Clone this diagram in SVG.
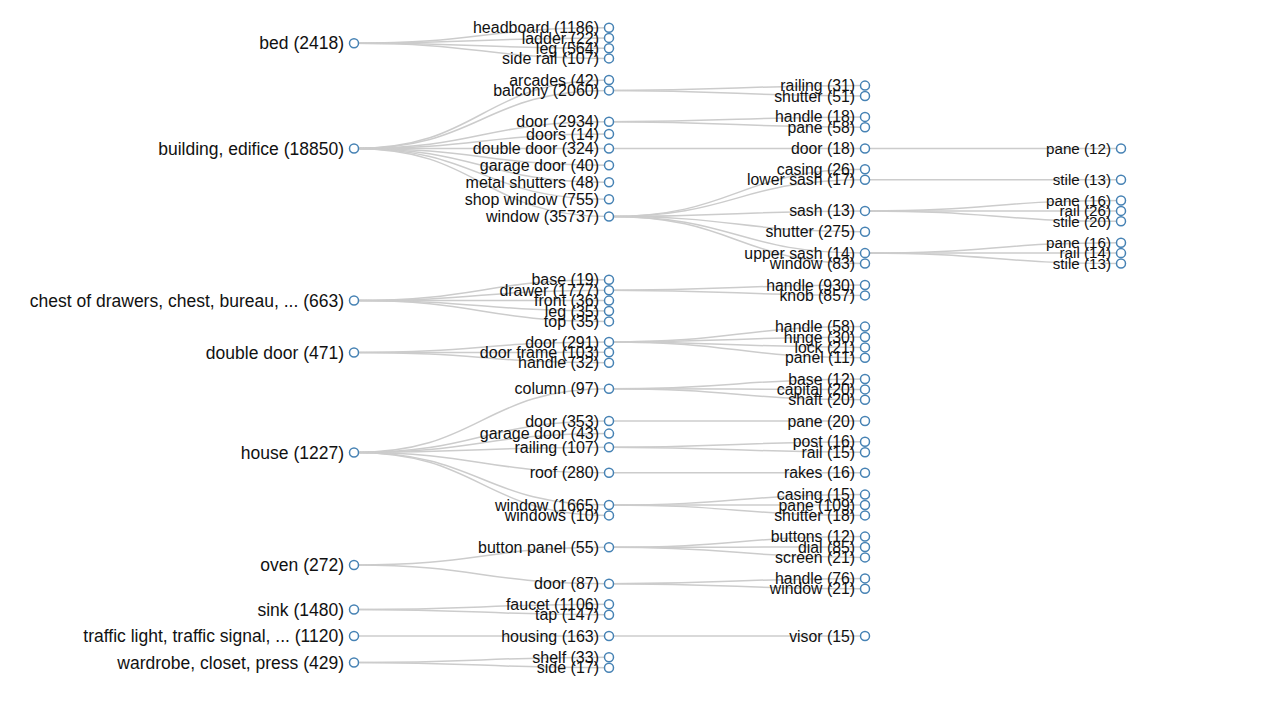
<svg xmlns="http://www.w3.org/2000/svg" width="1262" height="701" viewBox="0 0 1262 701">
<style>
.l{fill:none;stroke:#ccc;stroke-width:1.5}
circle{fill:#fff;stroke:#4682b4;stroke-width:1.5}
text{font-family:"Liberation Sans",Arial,sans-serif;fill:#111;text-anchor:end}
.t1 text{font-size:17.5px}
.t2 text{font-size:16px}
.t3 text{font-size:15.8px}
.t4 text{font-size:15.2px}
</style>
<rect width="1262" height="701" fill="#fff"/>
<g id="links">
<path class="l" d="M354,43.3C481.5,43.3 481.5,27.7 609,27.7"/>
<path class="l" d="M354,43.3C481.5,43.3 481.5,37.9 609,37.9"/>
<path class="l" d="M354,43.3C481.5,43.3 481.5,48.2 609,48.2"/>
<path class="l" d="M354,43.3C481.5,43.3 481.5,58.4 609,58.4"/>
<path class="l" d="M354,148.5C481.5,148.5 481.5,80 609,80"/>
<path class="l" d="M354,148.5C481.5,148.5 481.5,90.4 609,90.4"/>
<path class="l" d="M354,148.5C481.5,148.5 481.5,121.7 609,121.7"/>
<path class="l" d="M354,148.5C481.5,148.5 481.5,134 609,134"/>
<path class="l" d="M354,148.5C481.5,148.5 481.5,148.5 609,148.5"/>
<path class="l" d="M354,148.5C481.5,148.5 481.5,165.2 609,165.2"/>
<path class="l" d="M354,148.5C481.5,148.5 481.5,182.2 609,182.2"/>
<path class="l" d="M354,148.5C481.5,148.5 481.5,199.3 609,199.3"/>
<path class="l" d="M354,148.5C481.5,148.5 481.5,216.5 609,216.5"/>
<path class="l" d="M354,300.5C481.5,300.5 481.5,279.8 609,279.8"/>
<path class="l" d="M354,300.5C481.5,300.5 481.5,290.2 609,290.2"/>
<path class="l" d="M354,300.5C481.5,300.5 481.5,300.6 609,300.6"/>
<path class="l" d="M354,300.5C481.5,300.5 481.5,311 609,311"/>
<path class="l" d="M354,300.5C481.5,300.5 481.5,321.4 609,321.4"/>
<path class="l" d="M354,352.5C481.5,352.5 481.5,341.9 609,341.9"/>
<path class="l" d="M354,352.5C481.5,352.5 481.5,352.3 609,352.3"/>
<path class="l" d="M354,352.5C481.5,352.5 481.5,362.7 609,362.7"/>
<path class="l" d="M354,452.5C481.5,452.5 481.5,388.8 609,388.8"/>
<path class="l" d="M354,452.5C481.5,452.5 481.5,421 609,421"/>
<path class="l" d="M354,452.5C481.5,452.5 481.5,433.6 609,433.6"/>
<path class="l" d="M354,452.5C481.5,452.5 481.5,447.2 609,447.2"/>
<path class="l" d="M354,452.5C481.5,452.5 481.5,472.8 609,472.8"/>
<path class="l" d="M354,452.5C481.5,452.5 481.5,505 609,505"/>
<path class="l" d="M354,452.5C481.5,452.5 481.5,515.4 609,515.4"/>
<path class="l" d="M354,565C481.5,565 481.5,547.3 609,547.3"/>
<path class="l" d="M354,565C481.5,565 481.5,583.8 609,583.8"/>
<path class="l" d="M354,609.5C481.5,609.5 481.5,604.3 609,604.3"/>
<path class="l" d="M354,609.5C481.5,609.5 481.5,614.7 609,614.7"/>
<path class="l" d="M354,636C481.5,636 481.5,636 609,636"/>
<path class="l" d="M354,662.5C481.5,662.5 481.5,657.3 609,657.3"/>
<path class="l" d="M354,662.5C481.5,662.5 481.5,667.7 609,667.7"/>
<path class="l" d="M609,90.4C737,90.4 737,85.6 865,85.6"/>
<path class="l" d="M609,90.4C737,90.4 737,96 865,96"/>
<path class="l" d="M609,121.7C737,121.7 737,116.9 865,116.9"/>
<path class="l" d="M609,121.7C737,121.7 737,127.3 865,127.3"/>
<path class="l" d="M609,148.5C737,148.5 737,148.5 865,148.5"/>
<path class="l" d="M609,216.5C737,216.5 737,169.3 865,169.3"/>
<path class="l" d="M609,216.5C737,216.5 737,179.7 865,179.7"/>
<path class="l" d="M609,216.5C737,216.5 737,210.9 865,210.9"/>
<path class="l" d="M609,216.5C737,216.5 737,231.7 865,231.7"/>
<path class="l" d="M609,216.5C737,216.5 737,253.1 865,253.1"/>
<path class="l" d="M609,216.5C737,216.5 737,263.5 865,263.5"/>
<path class="l" d="M609,290.2C737,290.2 737,285 865,285"/>
<path class="l" d="M609,290.2C737,290.2 737,295.4 865,295.4"/>
<path class="l" d="M609,341.9C737,341.9 737,326.6 865,326.6"/>
<path class="l" d="M609,341.9C737,341.9 737,337 865,337"/>
<path class="l" d="M609,341.9C737,341.9 737,347.4 865,347.4"/>
<path class="l" d="M609,341.9C737,341.9 737,357.8 865,357.8"/>
<path class="l" d="M609,388.8C737,388.8 737,379 865,379"/>
<path class="l" d="M609,388.8C737,388.8 737,389.4 865,389.4"/>
<path class="l" d="M609,388.8C737,388.8 737,399.8 865,399.8"/>
<path class="l" d="M609,421C737,421 737,421 865,421"/>
<path class="l" d="M609,447.2C737,447.2 737,441.8 865,441.8"/>
<path class="l" d="M609,447.2C737,447.2 737,452.2 865,452.2"/>
<path class="l" d="M609,472.8C737,472.8 737,472.8 865,472.8"/>
<path class="l" d="M609,505C737,505 737,494.6 865,494.6"/>
<path class="l" d="M609,505C737,505 737,505 865,505"/>
<path class="l" d="M609,505C737,505 737,515.4 865,515.4"/>
<path class="l" d="M609,547.3C737,547.3 737,536.6 865,536.6"/>
<path class="l" d="M609,547.3C737,547.3 737,547 865,547"/>
<path class="l" d="M609,547.3C737,547.3 737,557.4 865,557.4"/>
<path class="l" d="M609,583.8C737,583.8 737,578.4 865,578.4"/>
<path class="l" d="M609,583.8C737,583.8 737,588.8 865,588.8"/>
<path class="l" d="M609,636C737,636 737,636 865,636"/>
<path class="l" d="M865,148.5C993,148.5 993,148.5 1121,148.5"/>
<path class="l" d="M865,179.7C993,179.7 993,179.7 1121,179.7"/>
<path class="l" d="M865,210.9C993,210.9 993,200.5 1121,200.5"/>
<path class="l" d="M865,210.9C993,210.9 993,210.9 1121,210.9"/>
<path class="l" d="M865,210.9C993,210.9 993,221.3 1121,221.3"/>
<path class="l" d="M865,253.1C993,253.1 993,242.7 1121,242.7"/>
<path class="l" d="M865,253.1C993,253.1 993,253.1 1121,253.1"/>
<path class="l" d="M865,253.1C993,253.1 993,263.5 1121,263.5"/>
</g>
<g id="level1" class="t1">
<g id="n-bed"><circle cx="354" cy="43.3" r="4.5"/><text x="344" y="43.3" dy="0.35em">bed (2418)</text></g>
<g id="n-building"><circle cx="354" cy="148.5" r="4.5"/><text x="344" y="148.5" dy="0.35em">building, edifice (18850)</text></g>
<g id="n-chest"><circle cx="354" cy="300.5" r="4.5"/><text x="344" y="300.5" dy="0.35em">chest of drawers, chest, bureau, ... (663)</text></g>
<g id="n-doubledoor"><circle cx="354" cy="352.5" r="4.5"/><text x="344" y="352.5" dy="0.35em">double door (471)</text></g>
<g id="n-house"><circle cx="354" cy="452.5" r="4.5"/><text x="344" y="452.5" dy="0.35em">house (1227)</text></g>
<g id="n-oven"><circle cx="354" cy="565" r="4.5"/><text x="344" y="565" dy="0.35em">oven (272)</text></g>
<g id="n-sink"><circle cx="354" cy="609.5" r="4.5"/><text x="344" y="609.5" dy="0.35em">sink (1480)</text></g>
<g id="n-traffic"><circle cx="354" cy="636" r="4.5"/><text x="344" y="636" dy="0.35em">traffic light, traffic signal, ... (1120)</text></g>
<g id="n-wardrobe"><circle cx="354" cy="662.5" r="4.5"/><text x="344" y="662.5" dy="0.35em">wardrobe, closet, press (429)</text></g>
</g>
<g id="level2" class="t2">
<g id="n-bed-headboard"><circle cx="609" cy="27.7" r="4.5"/><text x="599" y="27.7" dy="0.35em">headboard (1186)</text></g>
<g id="n-bed-ladder"><circle cx="609" cy="37.9" r="4.5"/><text x="599" y="37.9" dy="0.35em">ladder (22)</text></g>
<g id="n-bed-leg"><circle cx="609" cy="48.2" r="4.5"/><text x="599" y="48.2" dy="0.35em">leg (564)</text></g>
<g id="n-bed-siderail"><circle cx="609" cy="58.4" r="4.5"/><text x="599" y="58.4" dy="0.35em">side rail (107)</text></g>
<g id="n-b-arcades"><circle cx="609" cy="80" r="4.5"/><text x="599" y="80" dy="0.35em">arcades (42)</text></g>
<g id="n-b-balcony"><circle cx="609" cy="90.4" r="4.5"/><text x="599" y="90.4" dy="0.35em">balcony (2060)</text></g>
<g id="n-b-door"><circle cx="609" cy="121.7" r="4.5"/><text x="599" y="121.7" dy="0.35em">door (2934)</text></g>
<g id="n-b-doors"><circle cx="609" cy="134" r="4.5"/><text x="599" y="134" dy="0.35em">doors (14)</text></g>
<g id="n-b-doubledoor"><circle cx="609" cy="148.5" r="4.5"/><text x="599" y="148.5" dy="0.35em">double door (324)</text></g>
<g id="n-b-garagedoor"><circle cx="609" cy="165.2" r="4.5"/><text x="599" y="165.2" dy="0.35em">garage door (40)</text></g>
<g id="n-b-metalshutters"><circle cx="609" cy="182.2" r="4.5"/><text x="599" y="182.2" dy="0.35em">metal shutters (48)</text></g>
<g id="n-b-shopwindow"><circle cx="609" cy="199.3" r="4.5"/><text x="599" y="199.3" dy="0.35em">shop window (755)</text></g>
<g id="n-b-window"><circle cx="609" cy="216.5" r="4.5"/><text x="599" y="216.5" dy="0.35em">window (35737)</text></g>
<g id="n-c-base"><circle cx="609" cy="279.8" r="4.5"/><text x="599" y="279.8" dy="0.35em">base (19)</text></g>
<g id="n-c-drawer"><circle cx="609" cy="290.2" r="4.5"/><text x="599" y="290.2" dy="0.35em">drawer (1777)</text></g>
<g id="n-c-front"><circle cx="609" cy="300.6" r="4.5"/><text x="599" y="300.6" dy="0.35em">front (36)</text></g>
<g id="n-c-leg"><circle cx="609" cy="311" r="4.5"/><text x="599" y="311" dy="0.35em">leg (35)</text></g>
<g id="n-c-top"><circle cx="609" cy="321.4" r="4.5"/><text x="599" y="321.4" dy="0.35em">top (35)</text></g>
<g id="n-dd-door"><circle cx="609" cy="341.9" r="4.5"/><text x="599" y="341.9" dy="0.35em">door (291)</text></g>
<g id="n-dd-doorframe"><circle cx="609" cy="352.3" r="4.5"/><text x="599" y="352.3" dy="0.35em">door frame (103)</text></g>
<g id="n-dd-handle"><circle cx="609" cy="362.7" r="4.5"/><text x="599" y="362.7" dy="0.35em">handle (32)</text></g>
<g id="n-h-column"><circle cx="609" cy="388.8" r="4.5"/><text x="599" y="388.8" dy="0.35em">column (97)</text></g>
<g id="n-h-door"><circle cx="609" cy="421" r="4.5"/><text x="599" y="421" dy="0.35em">door (353)</text></g>
<g id="n-h-garagedoor"><circle cx="609" cy="433.6" r="4.5"/><text x="599" y="433.6" dy="0.35em">garage door (43)</text></g>
<g id="n-h-railing"><circle cx="609" cy="447.2" r="4.5"/><text x="599" y="447.2" dy="0.35em">railing (107)</text></g>
<g id="n-h-roof"><circle cx="609" cy="472.8" r="4.5"/><text x="599" y="472.8" dy="0.35em">roof (280)</text></g>
<g id="n-h-window"><circle cx="609" cy="505" r="4.5"/><text x="599" y="505" dy="0.35em">window (1665)</text></g>
<g id="n-h-windows"><circle cx="609" cy="515.4" r="4.5"/><text x="599" y="515.4" dy="0.35em">windows (10)</text></g>
<g id="n-o-buttonpanel"><circle cx="609" cy="547.3" r="4.5"/><text x="599" y="547.3" dy="0.35em">button panel (55)</text></g>
<g id="n-o-door"><circle cx="609" cy="583.8" r="4.5"/><text x="599" y="583.8" dy="0.35em">door (87)</text></g>
<g id="n-s-faucet"><circle cx="609" cy="604.3" r="4.5"/><text x="599" y="604.3" dy="0.35em">faucet (1106)</text></g>
<g id="n-s-tap"><circle cx="609" cy="614.7" r="4.5"/><text x="599" y="614.7" dy="0.35em">tap (147)</text></g>
<g id="n-t-housing"><circle cx="609" cy="636" r="4.5"/><text x="599" y="636" dy="0.35em">housing (163)</text></g>
<g id="n-w-shelf"><circle cx="609" cy="657.3" r="4.5"/><text x="599" y="657.3" dy="0.35em">shelf (33)</text></g>
<g id="n-w-side"><circle cx="609" cy="667.7" r="4.5"/><text x="599" y="667.7" dy="0.35em">side (17)</text></g>
</g>
<g id="level3" class="t3">
<g id="n3-railing"><circle cx="865" cy="85.6" r="4.5"/><text x="855" y="85.6" dy="0.35em">railing (31)</text></g>
<g id="n3-shutter"><circle cx="865" cy="96" r="4.5"/><text x="855" y="96" dy="0.35em">shutter (51)</text></g>
<g id="n3-handle18"><circle cx="865" cy="116.9" r="4.5"/><text x="855" y="116.9" dy="0.35em">handle (18)</text></g>
<g id="n3-pane58"><circle cx="865" cy="127.3" r="4.5"/><text x="855" y="127.3" dy="0.35em">pane (58)</text></g>
<g id="n3-door18"><circle cx="865" cy="148.5" r="4.5"/><text x="855" y="148.5" dy="0.35em">door (18)</text></g>
<g id="n3-casing26"><circle cx="865" cy="169.3" r="4.5"/><text x="855" y="169.3" dy="0.35em">casing (26)</text></g>
<g id="n3-lowersash"><circle cx="865" cy="179.7" r="4.5"/><text x="855" y="179.7" dy="0.35em">lower sash (17)</text></g>
<g id="n3-sash"><circle cx="865" cy="210.9" r="4.5"/><text x="855" y="210.9" dy="0.35em">sash (13)</text></g>
<g id="n3-shutter275"><circle cx="865" cy="231.7" r="4.5"/><text x="855" y="231.7" dy="0.35em">shutter (275)</text></g>
<g id="n3-uppersash"><circle cx="865" cy="253.1" r="4.5"/><text x="855" y="253.1" dy="0.35em">upper sash (14)</text></g>
<g id="n3-window83"><circle cx="865" cy="263.5" r="4.5"/><text x="855" y="263.5" dy="0.35em">window (83)</text></g>
<g id="n3-handle930"><circle cx="865" cy="285" r="4.5"/><text x="855" y="285" dy="0.35em">handle (930)</text></g>
<g id="n3-knob"><circle cx="865" cy="295.4" r="4.5"/><text x="855" y="295.4" dy="0.35em">knob (857)</text></g>
<g id="n3-handle58"><circle cx="865" cy="326.6" r="4.5"/><text x="855" y="326.6" dy="0.35em">handle (58)</text></g>
<g id="n3-hinge"><circle cx="865" cy="337" r="4.5"/><text x="855" y="337" dy="0.35em">hinge (30)</text></g>
<g id="n3-lock"><circle cx="865" cy="347.4" r="4.5"/><text x="855" y="347.4" dy="0.35em">lock (21)</text></g>
<g id="n3-panel"><circle cx="865" cy="357.8" r="4.5"/><text x="855" y="357.8" dy="0.35em">panel (11)</text></g>
<g id="n3-base12"><circle cx="865" cy="379" r="4.5"/><text x="855" y="379" dy="0.35em">base (12)</text></g>
<g id="n3-capital"><circle cx="865" cy="389.4" r="4.5"/><text x="855" y="389.4" dy="0.35em">capital (20)</text></g>
<g id="n3-shaft"><circle cx="865" cy="399.8" r="4.5"/><text x="855" y="399.8" dy="0.35em">shaft (20)</text></g>
<g id="n3-pane20"><circle cx="865" cy="421" r="4.5"/><text x="855" y="421" dy="0.35em">pane (20)</text></g>
<g id="n3-post"><circle cx="865" cy="441.8" r="4.5"/><text x="855" y="441.8" dy="0.35em">post (16)</text></g>
<g id="n3-rail15"><circle cx="865" cy="452.2" r="4.5"/><text x="855" y="452.2" dy="0.35em">rail (15)</text></g>
<g id="n3-rakes"><circle cx="865" cy="472.8" r="4.5"/><text x="855" y="472.8" dy="0.35em">rakes (16)</text></g>
<g id="n3-casing15"><circle cx="865" cy="494.6" r="4.5"/><text x="855" y="494.6" dy="0.35em">casing (15)</text></g>
<g id="n3-pane109"><circle cx="865" cy="505" r="4.5"/><text x="855" y="505" dy="0.35em">pane (109)</text></g>
<g id="n3-shutter18"><circle cx="865" cy="515.4" r="4.5"/><text x="855" y="515.4" dy="0.35em">shutter (18)</text></g>
<g id="n3-buttons"><circle cx="865" cy="536.6" r="4.5"/><text x="855" y="536.6" dy="0.35em">buttons (12)</text></g>
<g id="n3-dial"><circle cx="865" cy="547" r="4.5"/><text x="855" y="547" dy="0.35em">dial (85)</text></g>
<g id="n3-screen"><circle cx="865" cy="557.4" r="4.5"/><text x="855" y="557.4" dy="0.35em">screen (21)</text></g>
<g id="n3-handle76"><circle cx="865" cy="578.4" r="4.5"/><text x="855" y="578.4" dy="0.35em">handle (76)</text></g>
<g id="n3-window21"><circle cx="865" cy="588.8" r="4.5"/><text x="855" y="588.8" dy="0.35em">window (21)</text></g>
<g id="n3-visor"><circle cx="865" cy="636" r="4.5"/><text x="855" y="636" dy="0.35em">visor (15)</text></g>
</g>
<g id="level4" class="t4">
<g id="n4-pane12"><circle cx="1121" cy="148.5" r="4.5"/><text x="1111" y="148.5" dy="0.35em">pane (12)</text></g>
<g id="n4-stile13a"><circle cx="1121" cy="179.7" r="4.5"/><text x="1111" y="179.7" dy="0.35em">stile (13)</text></g>
<g id="n4-pane16a"><circle cx="1121" cy="200.5" r="4.5"/><text x="1111" y="200.5" dy="0.35em">pane (16)</text></g>
<g id="n4-rail26"><circle cx="1121" cy="210.9" r="4.5"/><text x="1111" y="210.9" dy="0.35em">rail (26)</text></g>
<g id="n4-stile20"><circle cx="1121" cy="221.3" r="4.5"/><text x="1111" y="221.3" dy="0.35em">stile (20)</text></g>
<g id="n4-pane16b"><circle cx="1121" cy="242.7" r="4.5"/><text x="1111" y="242.7" dy="0.35em">pane (16)</text></g>
<g id="n4-rail14"><circle cx="1121" cy="253.1" r="4.5"/><text x="1111" y="253.1" dy="0.35em">rail (14)</text></g>
<g id="n4-stile13b"><circle cx="1121" cy="263.5" r="4.5"/><text x="1111" y="263.5" dy="0.35em">stile (13)</text></g>
</g>
</svg>
